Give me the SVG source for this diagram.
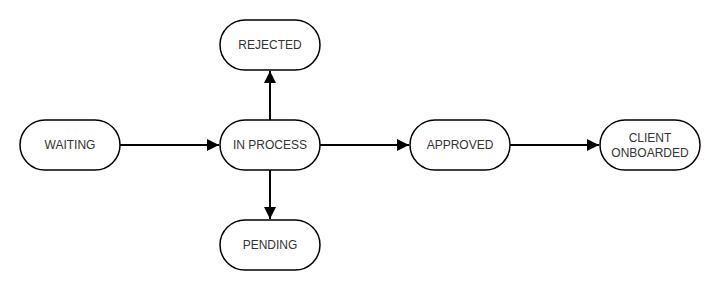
<svg xmlns="http://www.w3.org/2000/svg" width="726" height="290" viewBox="0 0 726 290">
<style>
.node rect{fill:#fff;stroke:#000;stroke-width:1.5}
.node text{font-family:"Liberation Sans",Arial,sans-serif;font-size:12px;fill:#333;text-anchor:middle;dominant-baseline:central}
.edge{stroke:#000;stroke-width:2;fill:none}
</style>
<defs>
<marker id="arr" viewBox="0 0 10 10" refX="10" refY="5" markerWidth="6" markerHeight="6" markerUnits="strokeWidth" orient="auto">
<path d="M0,0 L10,5 L0,10 z" fill="#000"/>
</marker>
</defs>
<rect width="726" height="290" fill="#fff"/>
<g id="connectors">
<line class="edge" x1="120" y1="145" x2="219" y2="145" marker-end="url(#arr)"/>
<line class="edge" x1="270" y1="120" x2="270" y2="71" marker-end="url(#arr)"/>
<line class="edge" x1="270" y1="170" x2="270" y2="219" marker-end="url(#arr)"/>
<line class="edge" x1="320" y1="145" x2="409" y2="145" marker-end="url(#arr)"/>
<line class="edge" x1="510" y1="145" x2="599" y2="145" marker-end="url(#arr)"/>
</g>
<g id="waiting" class="node"><rect x="20" y="120" width="100" height="50" rx="25"/><text x="70" y="145">WAITING</text></g>
<g id="inprocess" class="node"><rect x="220" y="120" width="100" height="50" rx="25"/><text x="270" y="145">IN PROCESS</text></g>
<g id="rejected" class="node"><rect x="220" y="20" width="100" height="50" rx="25"/><text x="270" y="45">REJECTED</text></g>
<g id="pending" class="node"><rect x="220" y="220" width="100" height="50" rx="25"/><text x="270" y="245">PENDING</text></g>
<g id="approved" class="node"><rect x="410" y="120" width="100" height="50" rx="25"/><text x="460" y="145">APPROVED</text></g>
<g id="client" class="node"><rect x="600" y="120" width="100" height="50" rx="25"/><text x="650" y="138">CLIENT</text><text x="650" y="153">ONBOARDED</text></g>
</svg>
